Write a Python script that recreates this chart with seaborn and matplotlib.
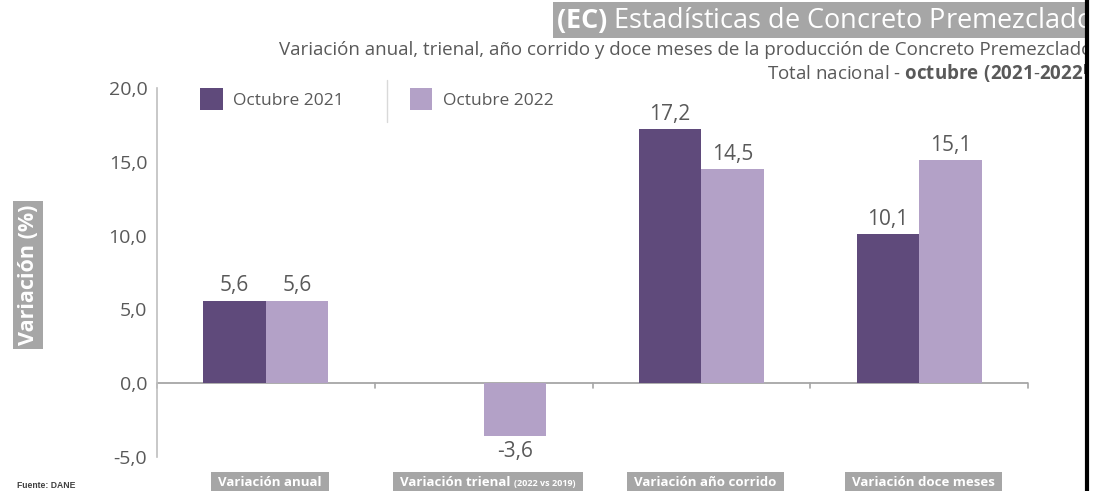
import numpy as np
import pandas as pd
import seaborn as sns
import matplotlib.pyplot as plt
from matplotlib.lines import Line2D
from matplotlib.patches import Rectangle
from matplotlib.ticker import FuncFormatter

# datos
categorias = ['Variación anual', 'Variación trienal', 'Variación año corrido', 'Variación doce meses']
notas_categoria = ['', '(2022 vs 2019)', '', '']
series = ['Octubre 2021', 'Octubre 2022']
oct_2021 = [5.6, np.nan, 17.2, 10.1]
oct_2022 = [5.6, -3.6, 14.5, 15.1]
y_ticks = [-5, 0, 5, 10, 15, 20]

titulo = "Estadísticas de Concreto Premezclado"
subtitulo = "Variación anual, trienal, año corrido y doce meses de la producción de Concreto Premezclado"
fuente = "Fuente: DANE"

colores = ['#5f4a7b', '#b3a1c7']
gris_texto = '#595959'
gris_caja = '#a6a6a6'

sns.set_style('white')
plt.rcParams['font.family'] = ['Open Sans', 'DejaVu Sans']
plt.rcParams['mathtext.fontset'] = 'custom'
plt.rcParams['mathtext.rm'] = 'Open Sans'
plt.rcParams['mathtext.bf'] = 'Open Sans:bold'

df = pd.DataFrame({
    'categoria': categorias * 2,
    'serie': [series[0]] * len(categorias) + [series[1]] * len(categorias),
    'valor': oct_2021 + oct_2022,
})

W, H = 1105, 491
fig = plt.figure(figsize=(W / 100, H / 100), dpi=100)
ax = fig.add_axes([157 / W, 1 - 457 / H, (1028 - 157) / W, (457 - 88) / H])

sns.barplot(data=df, x='categoria', y='valor', hue='serie', order=categorias,
            hue_order=series, palette=colores, width=0.575, saturation=1,
            errorbar=None, linewidth=0, ax=ax)

ax.set_xlim(-0.5, len(categorias) - 0.5)
ax.set_ylim(min(y_ticks), max(y_ticks))
ax.set_yticks(y_ticks)
ax.yaxis.set_major_formatter(FuncFormatter(lambda v, p: f"{v:.1f}".replace('.', ',')))
ax.tick_params(axis='y', length=4, width=1, color='#bfbfbf', labelcolor=gris_texto, labelsize=14, pad=3)
ax.tick_params(axis='x', bottom=False, labelbottom=False)
ax.set_xlabel('')
ax.set_ylabel('')
for s in ['top', 'right', 'bottom']:
    ax.spines[s].set_visible(False)
ax.spines['left'].set_color('#bfbfbf')
ax.spines['left'].set_linewidth(1.2)

# linea del cero y marcas entre categorias
ax.axhline(0, color=gris_caja, lw=1.3, zorder=0)
for b in np.arange(len(categorias) + 1) - 0.5:
    ax.plot([b, b], [0, -0.35], color=gris_caja, lw=1.2, clip_on=False)

# etiquetas de valor
for cont in ax.containers:
    etiquetas = ['' if np.isnan(b.get_height()) else f"{b.get_height():.1f}".replace('.', ',') for b in cont]
    ax.bar_label(cont, labels=etiquetas, padding=3, color=gris_texto, fontsize=15)

# leyenda
handles, labels = ax.get_legend_handles_labels()
ax.legend(handles, labels, loc='upper left', bbox_to_anchor=(200 / W, 1 - 88 / H),
          bbox_transform=fig.transFigure, ncol=2, frameon=False, fontsize=12.5,
          handlelength=1.3, handleheight=1.6, handletextpad=0.6, columnspacing=3.8,
          borderpad=0, borderaxespad=0, labelcolor=gris_texto)
fig.add_artist(Line2D([387 / W, 387 / W], [1 - 80 / H, 1 - 122 / H], color='#d9d9d9', lw=1))

# etiquetas de categoria en cajas grises
renderer = fig.canvas.get_renderer()
y_base = 1 - 486 / H
for i, (cat, nota) in enumerate(zip(categorias, notas_categoria)):
    cx = ax.transData.transform((i, 0))[0] + 4
    t1 = fig.text(0, y_base, cat, ha='left', va='baseline', color='white',
                  fontsize=9.5, fontweight='bold', zorder=3)
    w1 = t1.get_window_extent(renderer).width
    w2, gap = 0, 0
    if nota:
        t2 = fig.text(0, y_base, nota, ha='left', va='baseline', color='white',
                      fontsize=6.5, fontweight='bold', zorder=3)
        w2 = t2.get_window_extent(renderer).width
        gap = 4
    x0 = cx - (w1 + gap + w2) / 2
    t1.set_x(x0 / W)
    if nota:
        t2.set_x((x0 + w1 + gap) / W)
    fig.add_artist(Rectangle(((x0 - 7) / W, 1 - 493 / H), (w1 + gap + w2 + 14) / W, 21 / H,
                             transform=fig.transFigure, fc=gris_caja, ec='none', zorder=2))

# titulos
fig.text(1093 / W, 1 - 20 / H, r"$\mathbf{(EC)}$ " + titulo, ha='right', va='center',
         fontsize=19.5, color='white',
         bbox=dict(fc=gris_caja, ec='none', boxstyle='square,pad=0.12'))
fig.text(1092 / W, 1 - 50 / H, subtitulo, ha='right', va='center', fontsize=13.5, color=gris_texto)
fig.text(1092 / W, 1 - 74 / H, r"Total nacional - $\mathbf{octubre\ (2021}$-$\mathbf{2022^{p}}$",
         ha='right', va='center', fontsize=13.5, color=gris_texto)

# eje y
fig.text(28 / W, 1 - 275 / H, "Variación (%)", rotation=90, ha='center', va='center',
         color='white', fontweight='bold', fontsize=15.5,
         bbox=dict(fc=gris_caja, ec='none', boxstyle='square,pad=0.2'))
fig.text(17 / W, 1 - 485 / H, fuente, ha='left', va='center', fontsize=6.2,
         fontweight='bold', color='#404040', family=['Liberation Sans', 'DejaVu Sans'])

# borde derecho de la captura
fig.add_artist(Rectangle((1089 / W, 0), 16 / W, 1, transform=fig.transFigure,
                         fc='white', ec='none', zorder=10))
fig.add_artist(Line2D([1087 / W, 1087 / W], [0, 1], color='black', lw=3, zorder=11))

fig.savefig('out.png', dpi=100)
